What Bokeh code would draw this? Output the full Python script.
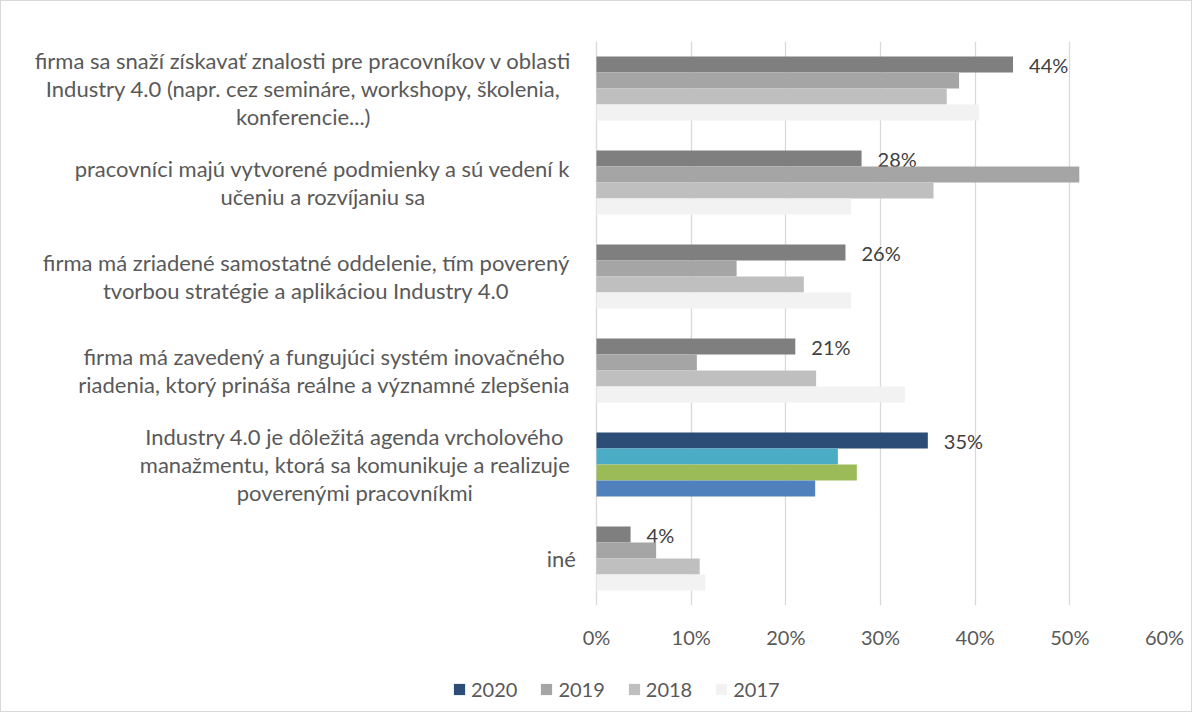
import unicodedata
from bokeh.plotting import figure
from bokeh.layouts import column
from bokeh.models import (ColumnDataSource, Range1d, NumeralTickFormatter, FixedTicker,
                          Legend, LegendItem)
from bokeh.core.properties import value
from bokeh.embed import file_html
from bokeh.resources import INLINE

# ---------------- data ----------------
categories = [
    "firma sa snaží získavať znalosti pre pracovníkov v oblasti\nIndustry 4.0 (napr. cez semináre, workshopy, školenia,\nkonferencie...)",
    "pracovníci majú vytvorené podmienky a sú vedení k\nučeniu a rozvíjaniu sa",
    "firma má zriadené samostatné oddelenie, tím poverený\ntvorbou stratégie a aplikáciou Industry 4.0",
    "firma má zavedený a fungujúci systém inovačného\nriadenia, ktorý prináša reálne a významné zlepšenia",
    "Industry 4.0 je dôležitá agenda vrcholového\nmanažmentu, ktorá sa komunikuje a realizuje\npoverenými pracovníkmi",
    "iné",
]
years = ["2020", "2019", "2018", "2017"]
v2020 = [0.440, 0.280, 0.263, 0.210, 0.350, 0.036]
v2019 = [0.383, 0.510, 0.148, 0.106, 0.255, 0.063]
v2018 = [0.370, 0.356, 0.219, 0.232, 0.275, 0.109]
v2017 = [0.404, 0.269, 0.269, 0.326, 0.231, 0.115]
x_ticks = [0.0, 0.1, 0.2, 0.3, 0.4, 0.5, 0.6]

series_values = [v2020, v2019, v2018, v2017]
series_colors = ["#7F7F7F", "#A5A5A5", "#BFBFBF", "#F2F2F2"]
highlight_colors = ["#2C4D75", "#4BACC6", "#9BBB59", "#4F81BD"]
legend_colors = ["#2C4D75", "#A5A5A5", "#BFBFBF", "#F2F2F2"]
highlight_cat = 4  # category drawn with its own colours

FONT = "Lato"
CAT_FS = 22
n = len(categories)

# ---------------- layout constants (pixels) ----------------
W = 1190
H_MAIN, H_LEG = 650, 60
plot_w = 568            # width of the 0..60 % area
label_w = 585           # area left of 0 % reserved for category labels
left_b, top_b, bottom_b = 10, 40, 46
right_b = W - left_b - label_w - plot_w
px_per_unit = plot_w / 0.6
x_start = -label_w / px_per_unit

p = figure(width=W, height=H_MAIN, output_backend="svg", toolbar_location=None,
           x_range=Range1d(x_start, 0.6), y_range=Range1d(-0.5, n - 0.5),
           min_border_left=left_b, min_border_right=right_b, min_border_top=top_b,
           min_border_bottom=bottom_b)
p.outline_line_color = None
p.background_fill_color = "white"

bar_h = 16 / 94.0
cat_centers = [n - 1 - i for i in range(n)]

for k, (yr, vals, col, hcol) in enumerate(zip(years, series_values, series_colors, highlight_colors)):
    offset = (1.5 - k) * bar_h
    colors = [hcol if i == highlight_cat else col for i in range(n)]
    src = ColumnDataSource(dict(y=[c + offset for c in cat_centers], right=vals, color=colors))
    p.hbar(y="y", left=0, right="right", height=bar_h, fill_color="color",
           line_color=None, source=src)

    if k == 0:
        lab_src = ColumnDataSource(dict(x=vals, y=[c + offset for c in cat_centers],
                                        t=[f"{round(v * 100):.0f}%" for v in vals]))
        p.text(x="x", y="y", text="t", source=lab_src, x_offset=16, y_offset=0,
               text_font=value(FONT), text_font_size="20px", text_color="#404040",
               text_baseline="middle", text_align="left")

# approximate Lato advance widths (em) to centre each wrapped label block
EM = {" ": .193, "a": .49, "b": .56, "c": .45, "d": .56, "e": .52, "f": .31, "g": .50,
      "h": .56, "i": .24, "j": .24, "k": .50, "l": .24, "m": .84, "n": .56, "o": .56,
      "p": .56, "r": .36, "s": .42, "t": .34, "u": .56, "v": .50, "w": .77, "x": .49,
      "y": .50, "z": .45, "I": .27, ".": .23, ",": .23, "(": .31, ")": .31}


def text_width(s, fs):
    tot = 0.0
    for ch in s:
        base = unicodedata.normalize("NFD", ch)[0]
        tot += EM.get(base, 0.58 if base.isdigit() else 0.55)
    return tot * fs * 1.05


gap_px = 20
cx = []
for cat in categories:
    w = max(text_width(l, CAT_FS) for l in cat.split("\n"))
    cx.append(-(gap_px + w / 2) / px_per_unit)
cat_src = ColumnDataSource(dict(x=cx, y=cat_centers, t=categories))
p.text(x="x", y="y", text="t", source=cat_src, text_align="center", text_baseline="middle",
       text_font=value(FONT), text_font_size=f"{CAT_FS}px", text_color="#595959",
       text_line_height=1.02)

# axes
p.yaxis.visible = False
p.xaxis.ticker = FixedTicker(ticks=x_ticks)
p.xaxis.formatter = NumeralTickFormatter(format="0%")
p.xaxis.axis_line_color = None
p.xaxis.major_tick_line_color = None
p.xaxis.minor_tick_line_color = None
p.xaxis.major_label_text_font = FONT
p.xaxis.major_label_text_font_size = "20px"
p.xaxis.major_label_text_color = "#595959"
p.xaxis.major_label_standoff = 13
p.xgrid.ticker = FixedTicker(ticks=x_ticks)
p.xgrid.grid_line_color = "#D9D9D9"
p.xgrid.grid_line_width = 1.3
p.ygrid.grid_line_color = None

# legend strip (swatch carriers sit outside the visible range)
q = figure(width=W, height=H_LEG, output_backend="svg", toolbar_location=None,
           x_range=Range1d(0, 1), y_range=Range1d(0, 1),
           min_border_left=0, min_border_right=0, min_border_top=0, min_border_bottom=0)
q.axis.visible = False
q.grid.visible = False
q.outline_line_color = None
items = []
for yr, c, vals in zip(years, legend_colors, series_values):
    r = q.hbar(y=[-5], left=[0], right=[vals[0]], height=0.1, fill_color=c, line_color=None)
    items.append(LegendItem(label=yr, renderers=[r]))
legend = Legend(items=items, orientation="horizontal", location=(441, 10),
                glyph_width=14, glyph_height=14, label_standoff=5, spacing=22,
                padding=0, margin=0, border_line_color=None, background_fill_alpha=0,
                label_text_font=FONT, label_text_font_size="20px", label_text_color="#595959")
q.add_layout(legend, "center")

layout = column(p, q, spacing=0)
layout.styles = {"border": "1px solid #D9D9D9"}

open("out.html", "w").write(file_html(layout, INLINE))
